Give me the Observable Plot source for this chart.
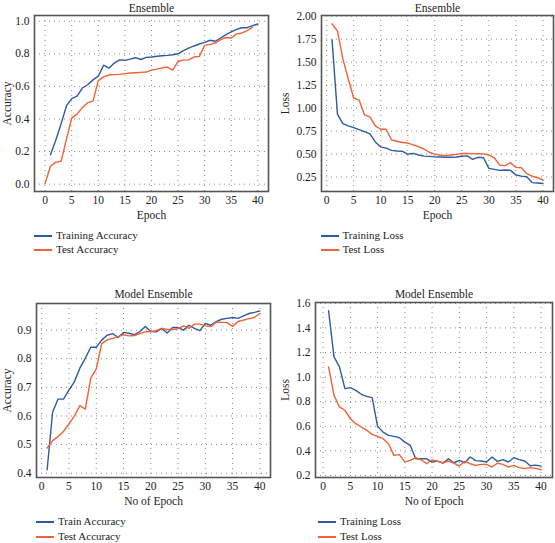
<!DOCTYPE html>
<html>
<head>
<meta charset="utf-8">
<script src="https://cdn.jsdelivr.net/npm/d3@7"></script>
<script src="https://cdn.jsdelivr.net/npm/@observablehq/plot@0.6"></script>
<style>
  html, body { margin: 0; padding: 0; background: #fff; }
  #root { position: relative; width: 555px; height: 543px; overflow: hidden; background: #fff; font-family: "Liberation Serif", serif; }
  .panel { position: absolute; }
  .leg { position: absolute; font-size: 11px; color: #222; line-height: 14px; white-space: nowrap; }
  .leg .sw { display: inline-block; width: 18px; height: 2px; vertical-align: middle; margin-right: 4px; }
</style>
</head>
<body>
<div id="root"></div>
<script>
// ---------- data ----------
const epochs1to40 = [1,2,3,4,5,6,7,8,9,10,11,12,13,14,15,16,17,18,19,20,21,22,23,24,25,26,27,28,29,30,31,32,33,34,35,36,37,38,39,40];
const epochs0to39 = [0,1,2,3,4,5,6,7,8,9,10,11,12,13,14,15,16,17,18,19,20,21,22,23,24,25,26,27,28,29,30,31,32,33,34,35,36,37,38,39];

// Panel 1: Ensemble accuracy
const ensTrainAcc = [0.18,0.27,0.37,0.48,0.525,0.54,0.59,0.61,0.64,0.663,0.73,0.712,0.743,0.763,0.76,0.767,0.776,0.765,0.778,0.78,
                     0.785,0.788,0.79,0.794,0.80,0.82,0.835,0.848,0.86,0.87,0.883,0.877,0.897,0.918,0.934,0.95,0.96,0.96,0.973,0.983];
const ensTestAcc  = [0.005,0.11,0.135,0.14,0.275,0.405,0.43,0.47,0.50,0.51,0.635,0.658,0.67,0.672,0.674,0.678,0.682,0.684,0.686,0.688,
                     0.70,0.706,0.714,0.718,0.70,0.753,0.761,0.763,0.78,0.784,0.852,0.858,0.866,0.887,0.90,0.897,0.922,0.928,0.942,0.963];

// Panel 2: Ensemble loss
const ensTrainLoss = [1.742,0.934,0.832,0.807,0.788,0.766,0.744,0.72,0.632,0.578,0.564,0.54,0.534,0.53,0.50,0.507,0.49,0.478,0.475,0.47,
                      0.468,0.466,0.465,0.468,0.476,0.48,0.443,0.465,0.46,0.345,0.334,0.323,0.327,0.323,0.272,0.26,0.254,0.19,0.185,0.18];
const ensTestLoss  = [1.917,1.837,1.535,1.317,1.11,1.087,0.927,0.905,0.807,0.77,0.77,0.655,0.64,0.626,0.62,0.60,0.58,0.553,0.52,0.50,
                      0.487,0.483,0.49,0.497,0.508,0.507,0.505,0.503,0.502,0.49,0.46,0.38,0.374,0.406,0.355,0.352,0.287,0.26,0.243,0.218];

// Panel 3: Model Ensemble accuracy
const modTrainAcc = [0.412,0.613,0.659,0.659,0.69,0.72,0.767,0.802,0.84,0.84,0.865,0.882,0.888,0.874,0.892,0.889,0.884,0.895,0.913,0.895,
                     0.894,0.906,0.89,0.909,0.909,0.90,0.917,0.906,0.898,0.923,0.917,0.93,0.938,0.941,0.944,0.941,0.95,0.958,0.962,0.967];
const modTestAcc  = [0.488,0.514,0.528,0.546,0.572,0.60,0.636,0.624,0.732,0.764,0.853,0.866,0.871,0.877,0.884,0.88,0.881,0.888,0.894,0.895,
                     0.898,0.906,0.902,0.902,0.905,0.915,0.906,0.921,0.921,0.915,0.912,0.928,0.927,0.926,0.913,0.93,0.935,0.94,0.944,0.958];

// Panel 4: Model Ensemble loss
const modTrainLoss = [1.54,1.164,1.083,0.906,0.914,0.892,0.86,0.843,0.833,0.599,0.553,0.526,0.518,0.507,0.471,0.444,0.335,0.335,0.335,0.308,
                      0.317,0.30,0.336,0.303,0.322,0.303,0.35,0.32,0.317,0.309,0.35,0.314,0.328,0.309,0.344,0.328,0.317,0.279,0.284,0.276];
const modTestLoss  = [1.083,0.852,0.757,0.73,0.662,0.621,0.594,0.567,0.534,0.518,0.499,0.458,0.363,0.369,0.31,0.322,0.344,0.327,0.295,0.327,
                      0.314,0.303,0.317,0.30,0.276,0.314,0.295,0.282,0.29,0.29,0.268,0.30,0.29,0.268,0.282,0.263,0.255,0.263,0.257,0.246];

// Tick labels
const xTicks = [0,5,10,15,20,25,30,35,40];
const yTicksAcc1 = [0.0,0.2,0.4,0.6,0.8,1.0];
const yTicksLoss1 = [0.25,0.50,0.75,1.00,1.25,1.50,1.75,2.00];
const yTicksAcc2 = [0.4,0.5,0.6,0.7,0.8,0.9];
const yTicksLoss2 = [0.2,0.4,0.6,0.8,1.0,1.2,1.4,1.6];

const titles = ["Ensemble","Ensemble","Model Ensemble","Model Ensemble"];
const xLabels = ["Epoch","Epoch","No of Epoch","No of Epoch"];
const yLabels = ["Accuracy","Loss","Accuracy","Loss"];
const seriesNames = [["Training Accuracy","Test Accuracy"],["Training Loss","Test Loss"],["Train Accuracy","Test Accuracy"],["Training Loss","Test Loss"]];

const BLUE = "#2d5ba3";
const RED = "#f26134";

function zip(xs, ys) { return xs.map((x, i) => ({epoch: x, value: ys[i]})); }

const panels = [
  {left: 0, top: 0, width: 277, height: 226, mL: 34, mR: 9, mT: 15, mB: 35,
   xDom: [-2, 42], yDom: [-0.045, 1.035], yTicks: yTicksAcc1, fmt: ".1f",
   a: zip(epochs1to40, ensTrainAcc), b: zip(epochs0to39, ensTestAcc), titleDy: -12,
   legX: 34, legY: [235, 249]},
  {left: 278, top: 0, width: 277, height: 226, mL: 43, mR: 2, mT: 15, mB: 35,
   xDom: [-0.95, 41.95], yDom: [0.093, 2.007], yTicks: yTicksLoss1, fmt: ".2f",
   a: zip(epochs1to40, ensTrainLoss), b: zip(epochs1to40, ensTestLoss), titleDy: -12,
   legX: 320.5, legY: [235, 249]},
  {left: 0, top: 280, width: 277, height: 233, mL: 36, mR: 7, mT: 23, mB: 36,
   xDom: [-0.95, 41.95], yDom: [0.385, 0.993], yTicks: yTicksAcc2, fmt: ".1f",
   a: zip(epochs1to40, modTrainAcc), b: zip(epochs1to40, modTestAcc), titleDy: -14,
   legX: 36, legY: [521, 536]},
  {left: 278, top: 280, width: 277, height: 233, mL: 37, mR: 3, mT: 22, mB: 36,
   xDom: [-1.4, 42.1], yDom: [0.183, 1.607], yTicks: yTicksLoss2, fmt: ".1f",
   a: zip(epochs1to40, modTrainLoss), b: zip(epochs1to40, modTestLoss), titleDy: -13,
   legX: 318, legY: [521, 536]}
];

const root = document.getElementById("root");

panels.forEach((p, i) => {
  const chart = Plot.plot({
    width: p.width, height: p.height,
    marginLeft: p.mL, marginRight: p.mR, marginTop: p.mT, marginBottom: p.mB,
    style: {fontFamily: "Liberation Serif, serif", fontSize: "11.5px", color: "#222", background: "transparent"},
    x: {domain: p.xDom},
    y: {domain: p.yDom},
    marks: [
      Plot.gridX(xTicks, {stroke: "#8a8a8a", strokeOpacity: 1, strokeDasharray: "1,4"}),
      Plot.gridY(p.yTicks, {stroke: "#8a8a8a", strokeOpacity: 1, strokeDasharray: "1,4"}),
      Plot.axisX({ticks: xTicks, tickSize: 0, tickPadding: 4, label: xLabels[i], labelAnchor: "center", labelArrow: "none", labelOffset: 27, fill: "#222"}),
      Plot.axisY({ticks: p.yTicks, tickFormat: d3.format(p.fmt), tickSize: 0, tickPadding: 5, label: yLabels[i], labelAnchor: "center", labelArrow: "none", labelOffset: p.mL - 2, fill: "#222"}),
      Plot.line(p.a, {x: "epoch", y: "value", stroke: BLUE, strokeWidth: 1.4}),
      Plot.line(p.b, {x: "epoch", y: "value", stroke: RED, strokeWidth: 1.4}),
      Plot.frame({stroke: "#555", strokeWidth: 1.6}),
      Plot.text([titles[i]], {frameAnchor: "top", dy: p.titleDy, fill: "#222"})
    ]
  });
  chart.classList.add("panel");
  chart.style.left = p.left + "px";
  chart.style.top = p.top + "px";
  root.appendChild(chart);

  [BLUE, RED].forEach((c, j) => {
    const d = document.createElement("div");
    d.className = "leg";
    d.style.left = p.legX + "px";
    d.style.top = (p.legY[j] - 7) + "px";
    const sw = document.createElement("span");
    sw.className = "sw";
    sw.style.background = c;
    d.appendChild(sw);
    d.appendChild(document.createTextNode(seriesNames[i][j]));
    root.appendChild(d);
  });
});
</script>
</body>
</html>
